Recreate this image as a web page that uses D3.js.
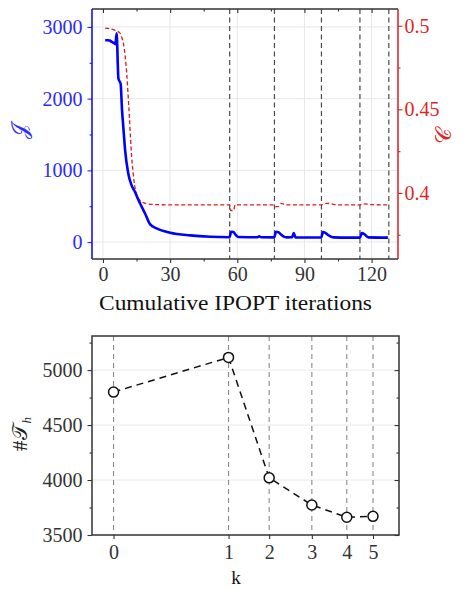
<!DOCTYPE html>
<html>
<head>
<meta charset="utf-8">
<script src="https://cdn.jsdelivr.net/npm/d3@7"></script>
<style>
  body { margin: 0; background: #fff; }
  svg { display: block; }
  text { font-family: "Liberation Serif", "DejaVu Serif", serif; }
</style>
</head>
<body>
<svg id="chart" width="464" height="589"></svg>
<script>
// ---- Objective J over cumulative IPOPT iterations ----
const iterJ = [1, 2, 3, 4, 5, 5.6, 6.1, 6.9, 7.9, 8.5, 9.1, 9.9, 11.3, 12.8, 14.3, 15.5, 16.6, 18.8, 21, 24, 30, 39, 48, 56.5,
  57.3, 58.3, 59.3, 60.5, 65, 69, 69.8, 70.6, 76.5,
  77.3, 78.5, 79.5, 80.8, 82, 84.5, 85.2, 86, 90, 97.5,
  98.3, 99.5, 101, 103, 110, 114.8,
  115.6, 116.8, 118.5, 127.3];
const valJ = [2815, 2815, 2810, 2790, 2775, 2760, 2912, 2280, 2205, 1850, 1600, 1280, 955, 790, 700, 610, 537, 398, 250, 190, 130, 93, 74, 68,
  145, 140, 100, 70, 68, 68, 80, 68, 66,
  145, 135, 105, 75, 66, 68, 125, 66, 64, 64,
  140, 125, 90, 65, 62, 62,
  125, 110, 65, 62];

// ---- Constraint value C over cumulative IPOPT iterations ----
const iterC = [1, 3, 5.4, 7.6, 8.4, 9.1, 9.9, 10.6, 11.2, 11.8, 12.3, 12.8, 13.4, 13.9, 15.1, 17.3, 21, 30, 56.5,
  57, 58.4, 59, 76.5, 77.2, 78.5, 79.5, 81, 82.5, 97.5, 98.5, 100, 102, 104.5, 115, 115.5, 118, 120, 127.3];
const valC = [0.4986, 0.4982, 0.4972, 0.4956, 0.493, 0.4896, 0.482, 0.4717, 0.459, 0.4457, 0.433, 0.4217, 0.413, 0.407, 0.3988, 0.3948, 0.3932, 0.3929, 0.3929,
  0.3895, 0.3895, 0.3929, 0.3929, 0.3918, 0.392, 0.3938, 0.3932, 0.3929, 0.3929, 0.3932, 0.3938, 0.3935, 0.3929, 0.3929, 0.3935, 0.3933, 0.393, 0.3929];

// ---- Mesh refinement steps: cumulative iteration at each k and triangle count ----
const kSteps = [0, 1, 2, 3, 4, 5];
const kIter = [0, 56.6, 76.6, 97.6, 114.8, 127.7];
const nTri = [4800, 5115, 4020, 3773, 3661, 3670];

// ---- Tick values ----
const topXTicks = [0, 30, 60, 90, 120];
const topXMinor = [15, 45, 75, 105];
const jTicks = [0, 1000, 2000, 3000];
const jMinor = [500, 1500, 2500];
const cTicks = [0.4, 0.45, 0.5];
const cMinor = [0.375, 0.425, 0.475];
const triTicks = [3500, 4000, 4500, 5000];
const triMinor = [3750, 4250, 4750, 5250];

const BLUE = "#0000ff", BLUE_TXT = "#2a2aff";
const RED = "#dd1c1c", RED_TXT = "#dd2626";
const SPINE = "#333";
const GRID = "#e8e8e8";
const FS = 20;
const plain = d3.format("d");

const svg = d3.select("#chart");

function styleAxis(g, color, fontSize) {
  g.select(".domain").remove();
  g.selectAll(".tick line").attr("stroke", color).attr("stroke-width", 1.1);
  g.selectAll(".tick text").attr("fill", color).attr("font-size", fontSize)
    .attr("font-family", '"Liberation Serif", "DejaVu Serif", serif');
}

// ================= Upper panel =================
const T = { l: 92, r: 398, t: 9, b: 259 };
const x1 = d3.scaleLinear().domain([-4.9, 131.8]).range([T.l, T.r]);
const yJ = d3.scaleLinear().domain([-236, 3250]).range([T.b, T.t]);
const yC = d3.scaleLinear().domain([0.3605, 0.510]).range([T.b, T.t]);

const upper = svg.append("g");

// grid
upper.append("g").selectAll("line").data(topXTicks).join("line")
  .attr("x1", d => x1(d)).attr("x2", d => x1(d)).attr("y1", T.t).attr("y2", T.b)
  .attr("stroke", GRID).attr("stroke-width", 1);
upper.append("g").selectAll("line").data(jTicks).join("line")
  .attr("x1", T.l).attr("x2", T.r).attr("y1", d => yJ(d)).attr("y2", d => yJ(d))
  .attr("stroke", GRID).attr("stroke-width", 1);

// restart markers
upper.append("g").selectAll("line").data(kIter.slice(1)).join("line")
  .attr("x1", d => x1(d)).attr("x2", d => x1(d)).attr("y1", T.t).attr("y2", T.b)
  .attr("stroke", "#4a4a4a").attr("stroke-width", 1.2).attr("stroke-dasharray", "5,3.5");

// C curve (right axis)
upper.append("path")
  .datum(iterC.map((d, i) => [d, valC[i]]))
  .attr("fill", "none").attr("stroke", RED).attr("stroke-width", 1.3)
  .attr("stroke-dasharray", "4,2.5")
  .attr("d", d3.line().x(d => x1(d[0])).y(d => yC(d[1])).curve(d3.curveMonotoneX));

// J curve (left axis)
upper.append("path")
  .datum(iterJ.map((d, i) => [d, valJ[i]]))
  .attr("fill", "none").attr("stroke", BLUE).attr("stroke-width", 2.6)
  .attr("stroke-linejoin", "round")
  .attr("d", d3.line().x(d => x1(d[0])).y(d => yJ(d[1])).curve(d3.curveMonotoneX));

// axes
upper.append("g").attr("transform", `translate(0,${T.b})`)
  .call(d3.axisBottom(x1).tickValues(topXTicks).tickSize(4).tickPadding(4).tickFormat(plain))
  .call(g => styleAxis(g, SPINE, FS));
upper.append("g").attr("transform", `translate(0,${T.b})`)
  .call(d3.axisBottom(x1).tickValues(topXMinor).tickSize(2.5).tickFormat(""))
  .call(g => styleAxis(g, SPINE, FS));
upper.append("g").attr("transform", `translate(0,${T.t})`)
  .call(d3.axisTop(x1).tickValues(topXTicks).tickSize(-4).tickFormat(""))
  .call(g => styleAxis(g, SPINE, FS));
upper.append("g").attr("transform", `translate(0,${T.t})`)
  .call(d3.axisTop(x1).tickValues(topXMinor).tickSize(-2.5).tickFormat(""))
  .call(g => styleAxis(g, SPINE, FS));

upper.append("g").attr("transform", `translate(${T.l},0)`)
  .call(d3.axisLeft(yJ).tickValues(jTicks).tickSize(4.5).tickPadding(5).tickFormat(plain))
  .call(g => styleAxis(g, BLUE_TXT, FS));
upper.append("g").attr("transform", `translate(${T.l},0)`)
  .call(d3.axisLeft(yJ).tickValues(jMinor).tickSize(2.5).tickFormat(""))
  .call(g => styleAxis(g, BLUE_TXT, FS));

upper.append("g").attr("transform", `translate(${T.r},0)`)
  .call(d3.axisRight(yC).tickValues(cTicks).tickSize(4.5).tickPadding(2).tickFormat(d3.format("")))
  .call(g => styleAxis(g, RED_TXT, FS));
upper.append("g").attr("transform", `translate(${T.r},0)`)
  .call(d3.axisRight(yC).tickValues(cMinor).tickSize(2.5).tickFormat(""))
  .call(g => styleAxis(g, RED_TXT, FS));

// spines
upper.append("line").attr("x1", T.l).attr("x2", T.r).attr("y1", T.t).attr("y2", T.t).attr("stroke", SPINE).attr("stroke-width", 1.5);
upper.append("line").attr("x1", T.l).attr("x2", T.r).attr("y1", T.b).attr("y2", T.b).attr("stroke", SPINE).attr("stroke-width", 1.5);
upper.append("line").attr("x1", T.l).attr("x2", T.l).attr("y1", T.t).attr("y2", T.b).attr("stroke", BLUE).attr("stroke-width", 1.5);
upper.append("line").attr("x1", T.r).attr("x2", T.r).attr("y1", T.t).attr("y2", T.b).attr("stroke", RED).attr("stroke-width", 1.5);

// labels
upper.append("text").attr("x", 99).attr("y", 310)
  .attr("text-anchor", "start").attr("font-size", FS).attr("fill", "#111")
  .attr("textLength", 273).attr("lengthAdjust", "spacingAndGlyphs")
  .text("Cumulative IPOPT iterations");
upper.append("text").attr("transform", "translate(27,131) rotate(-90)")
  .attr("text-anchor", "middle").attr("font-size", 22).attr("fill", BLUE_TXT)
  .text("𝒥");
upper.append("text").attr("transform", "translate(451,136) rotate(-90)")
  .attr("text-anchor", "middle").attr("font-size", 22).attr("fill", RED_TXT)
  .text("𝒞");

// ================= Lower panel =================
const B = { l: 92, r: 399, t: 336, b: 535 };
const x2 = d3.scaleLinear().domain([-10.6, 140.5]).range([B.l, B.r]);
const y2 = d3.scaleLinear().domain([3500, 5310]).range([B.b, B.t]);

const lower = svg.append("g");

lower.append("g").selectAll("line").data(triTicks.slice(1)).join("line")
  .attr("x1", B.l).attr("x2", B.r).attr("y1", d => y2(d)).attr("y2", d => y2(d))
  .attr("stroke", GRID).attr("stroke-width", 1);

lower.append("g").selectAll("line").data(kIter).join("line")
  .attr("x1", d => x2(d)).attr("x2", d => x2(d)).attr("y1", B.t).attr("y2", B.b)
  .attr("stroke", "#8a8a8a").attr("stroke-width", 1.1).attr("stroke-dasharray", "5,4");

lower.append("path")
  .datum(kIter.map((d, i) => [d, nTri[i]]))
  .attr("fill", "none").attr("stroke", "#111").attr("stroke-width", 1.5)
  .attr("stroke-dasharray", "7,5")
  .attr("d", d3.line().x(d => x2(d[0])).y(d => y2(d[1])));

lower.append("g").selectAll("circle").data(kIter.map((d, i) => [d, nTri[i]])).join("circle")
  .attr("cx", d => x2(d[0])).attr("cy", d => y2(d[1])).attr("r", 5)
  .attr("fill", "#fff").attr("stroke", "#111").attr("stroke-width", 1.5);

lower.append("g").attr("transform", `translate(0,${B.b})`)
  .call(d3.axisBottom(x2).tickValues(kIter).tickSize(4).tickPadding(6)
    .tickFormat((d, i) => kSteps[i]))
  .call(g => styleAxis(g, SPINE, FS));

lower.append("g").attr("transform", `translate(${B.l},0)`)
  .call(d3.axisLeft(y2).tickValues(triTicks).tickSize(4.5).tickPadding(5).tickFormat(plain))
  .call(g => styleAxis(g, SPINE, FS));
lower.append("g").attr("transform", `translate(${B.l},0)`)
  .call(d3.axisLeft(y2).tickValues(triMinor).tickSize(2.5).tickFormat(""))
  .call(g => styleAxis(g, SPINE, FS));
lower.append("g").attr("transform", `translate(${B.r},0)`)
  .call(d3.axisRight(y2).tickValues(triTicks).tickSize(-4.5).tickFormat(""))
  .call(g => styleAxis(g, SPINE, FS));
lower.append("g").attr("transform", `translate(${B.r},0)`)
  .call(d3.axisRight(y2).tickValues(triMinor).tickSize(-2.5).tickFormat(""))
  .call(g => styleAxis(g, SPINE, FS));

lower.append("rect").attr("x", B.l).attr("y", B.t).attr("width", B.r - B.l).attr("height", B.b - B.t)
  .attr("fill", "none").attr("stroke", SPINE).attr("stroke-width", 1.5);

lower.append("text").attr("x", 236).attr("y", 584)
  .attr("text-anchor", "middle").attr("font-size", 19).attr("fill", "#111")
  .attr("font-family", '"Liberation Mono", "DejaVu Sans Mono", monospace')
  .text("k");

const yl = lower.append("text").attr("transform", "translate(27,434) rotate(-90)")
  .attr("text-anchor", "middle").attr("font-size", 21).attr("fill", "#222");
yl.append("tspan").text("#");
yl.append("tspan").attr("dx", 1).text("𝒯");
yl.append("tspan").attr("font-size", 13).attr("font-style", "italic").attr("dy", 4).text("h");
</script>
</body>
</html>
